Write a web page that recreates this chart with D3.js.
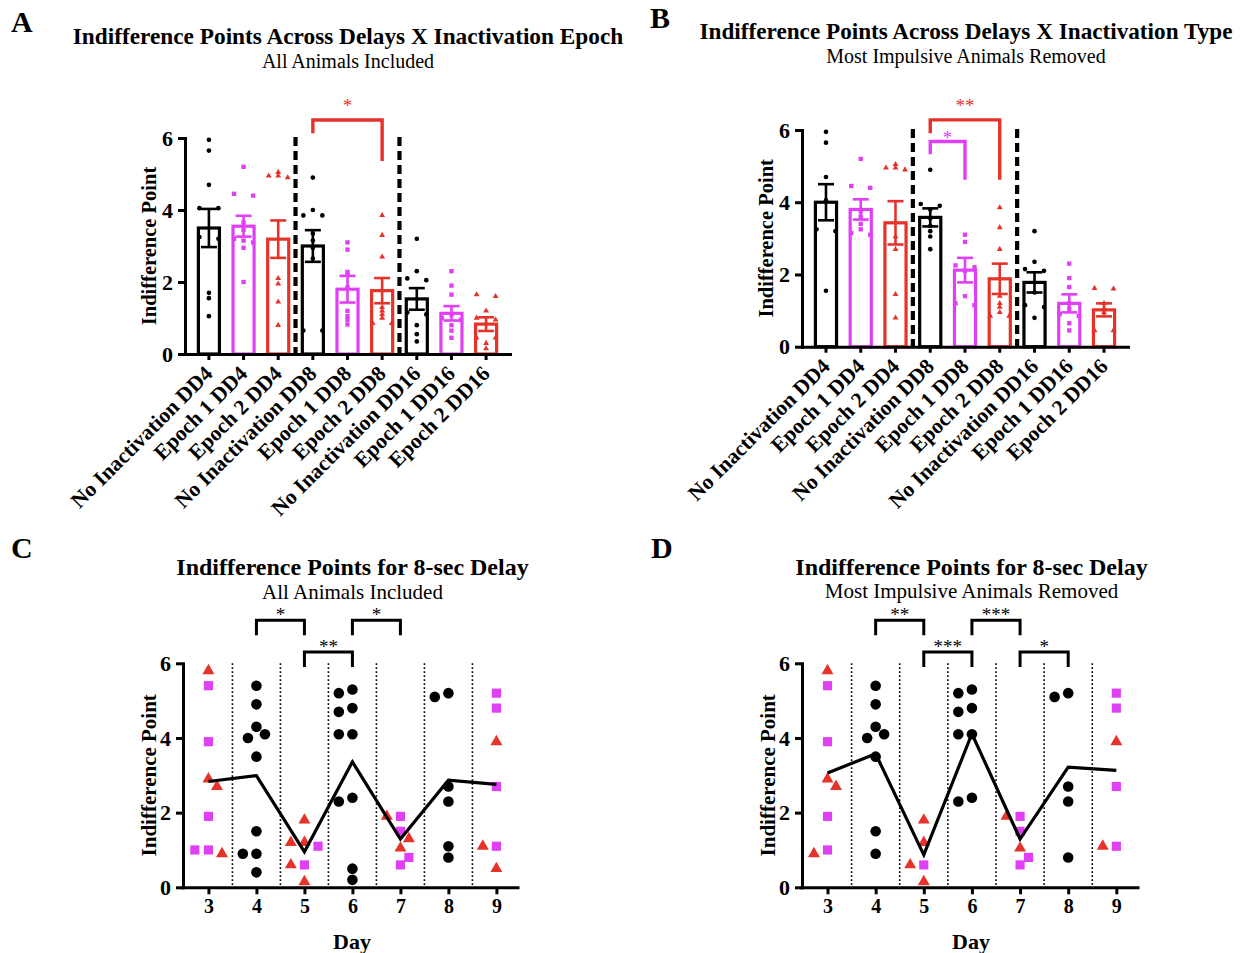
<!DOCTYPE html>
<html>
<head>
<meta charset="utf-8">
<script src="https://cdn.jsdelivr.net/npm/d3@7"></script>
<style>
  body { margin: 0; background: #fff; }
  svg text { font-family: "Liberation Serif", "Times New Roman", serif; fill: #000; }
</style>
</head>
<body>
<svg id="fig" width="1241" height="953"></svg>
<script>
// ---------- shared categories and ticks ----------
const barCategories = [
  "No Inactivation DD4", "Epoch 1 DD4", "Epoch 2 DD4",
  "No Inactivation DD8", "Epoch 1 DD8", "Epoch 2 DD8",
  "No Inactivation DD16", "Epoch 1 DD16", "Epoch 2 DD16"
];
const valueTicks = [0, 2, 4, 6];
const days = [3, 4, 5, 6, 7, 8, 9];

// ---------- Panel A: all animals included ----------
const meansA = [3.5, 3.55, 3.19, 3.0, 1.8, 1.76, 1.53, 1.13, 0.83];
const semsA  = [0.53, 0.29, 0.52, 0.44, 0.37, 0.35, 0.30, 0.20, 0.19];
const pointsA = [
  [5.95, 5.65, 4.7, 4.05, 4.05, 3.25, 3.2, 1.7, 1.55, 1.05],
  [5.2, 4.45, 4.4, 3.65, 3.45, 3.2, 3.15, 3.1, 2.95, 2.0],
  [5.05, 4.9, 4.95, 4.95, 2.1, 1.95, 1.45, 0.8],
  [4.9, 4.0, 3.85, 3.85, 3.35, 3.15, 2.95, 2.65, 0.65, 0.65],
  [3.1, 2.9, 2.28, 2.2, 1.85, 1.2, 1.05, 0.95, 0.82],
  [3.85, 3.3, 2.7, 1.3, 1.2, 1.1, 1.0, 0.85, 0.85],
  [3.2, 2.3, 2.1, 2.05, 1.15, 1.1, 0.8, 0.55, 0.35],
  [2.3, 1.9, 1.65, 1.1, 1.0, 0.95, 0.8, 0.65, 0.45],
  [1.65, 1.6, 1.2, 1.0, 0.95, 0.45, 0.45, 0.3, 0.15]
];

// ---------- Panel B: most impulsive animals removed ----------
const meansB = [4.0, 3.8, 3.43, 3.58, 2.12, 1.88, 1.78, 1.2, 1.02];
const semsB  = [0.5, 0.28, 0.6, 0.25, 0.34, 0.42, 0.28, 0.25, 0.18];
const pointsB = [
  [5.95, 5.65, 4.7, 4.05, 3.25, 3.2, 1.55],
  [5.2, 4.45, 4.4, 3.75, 3.6, 3.4, 3.25, 3.15, 3.1],
  [5.05, 4.9, 4.95, 4.95, 3.05, 2.7, 1.45, 0.8],
  [4.9, 3.95, 3.9, 3.8, 3.55, 3.35, 3.2, 3.05, 2.7],
  [3.1, 2.9, 2.25, 2.2, 2.1, 1.4, 1.2, 1.15],
  [3.85, 3.3, 2.7, 1.4, 1.2, 1.1, 0.95, 0.85, 0.85],
  [3.2, 2.35, 2.15, 2.1, 1.5, 1.15, 1.1, 0.8],
  [2.3, 1.9, 1.65, 1.2, 1.05, 0.9, 0.85, 0.65, 0.45],
  [1.62, 1.6, 1.2, 1.05, 0.95, 0.45, 0.45]
];

// ---------- Panel C: 8-sec delay by day, all animals ----------
const noInactC = [[], [5.4, 4.9, 4.3, 4.1, 4.0, 3.5, 1.5, 0.9, 0.9, 0.4], [], [5.3, 5.2, 4.8, 4.7, 4.1, 4.1, 2.4, 2.3, 0.5, 0.2], [], [5.2, 5.1, 2.7, 2.3, 1.1, 0.8], []];
const epoch1C  = [[5.4, 3.9, 1.9, 1.0, 1.0], [], [1.1, 0.6], [], [1.9, 1.5, 0.8, 0.6], [], [5.2, 4.8, 2.7, 1.1]];
const epoch2C  = [[5.8, 2.9, 2.7, 0.9], [], [1.8, 1.2, 1.2, 0.6, 0.15], [], [1.9, 1.3, 1.05], [], [3.9, 1.1, 0.5]];

// ---------- Panel D: 8-sec delay by day, impulsive removed ----------
const noInactD = [[], [5.4, 4.9, 4.3, 4.1, 4.0, 3.5, 1.5, 0.9], [], [5.3, 5.2, 4.8, 4.7, 4.1, 4.1, 2.4, 2.3], [], [5.2, 5.1, 2.7, 2.3, 0.8], []];
const epoch1D  = [[5.4, 3.9, 1.9, 1.0], [], [0.6], [], [1.9, 1.5, 0.8, 0.6], [], [5.2, 4.8, 2.7, 1.1]];
const epoch2D  = [[5.8, 2.9, 2.7, 0.9], [], [1.8, 1.2, 0.6, 0.15], [], [1.9, 1.05], [], [3.9, 1.1]];

// significance brackets
const bracketsA = [{ from: 3, to: 5, label: "*", group: "epoch2", top: 6.5, leftEnd: 6.13, rightEnd: 5.36, gap: 8 }];
const bracketsB = [
  { from: 3, to: 5, label: "**", group: "epoch2", top: 6.28, leftEnd: 5.91, rightEnd: 4.62, gap: 8 },
  { from: 3, to: 4, label: "*",  group: "epoch1", top: 5.68, leftEnd: 5.33, rightEnd: 4.62, gap: -2 }
];
const bracketsC = [
  { from: 4, to: 5, label: "*",  level: 0 },
  { from: 5, to: 6, label: "**", level: 1 },
  { from: 6, to: 7, label: "*",  level: 0 }
];
const bracketsD = [
  { from: 4, to: 5, label: "**",  level: 0 },
  { from: 5, to: 6, label: "***", level: 1 },
  { from: 6, to: 7, label: "***", level: 0 },
  { from: 7, to: 8, label: "*",   level: 1 }
];

// ---------- styling ----------
const colors = { none: "#000000", epoch1: "#e040f5", epoch2: "#e5332a" };
const groupOf = c => c.startsWith("No") ? "none" : (c.startsWith("Epoch 1") ? "epoch1" : "epoch2");
const shapeOf = { none: d3.symbolCircle, epoch1: d3.symbolSquare, epoch2: d3.symbolTriangle };

const svg = d3.select("#fig");

function label(g, x, y, s, size, weight, anchor, color) {
  return g.append("text").attr("x", x).attr("y", y).text(s)
    .style("font-size", size + "px").style("font-weight", weight)
    .attr("text-anchor", anchor || "middle").style("fill", color || "#000");
}

function styleAxis(sel, fontSize) {
  sel.select(".domain").attr("stroke", "#000").attr("stroke-width", 3).attr("stroke-linecap", "square");
  sel.selectAll(".tick line").attr("stroke", "#000").attr("stroke-width", 3);
  sel.selectAll(".tick text").style("font-size", fontSize + "px").style("font-weight", "bold")
    .style("font-family", '"Liberation Serif","Times New Roman",serif').attr("fill", "#000");
}

// spread near-equal values horizontally inside a bar
function barOffsets(vals, y, half) {
  const idx = vals.map((v, i) => i).sort((a, b) => vals[b] - vals[a]);
  const out = new Array(vals.length).fill(0);
  let grp = [idx[0]];
  const flush = () => {
    const n = grp.length;
    grp.forEach((k, j) => { out[k] = n === 1 ? 0 : -half + (2 * half) * j / (n - 1); });
  };
  for (let t = 1; t < idx.length; t++) {
    if (Math.abs(y(vals[idx[t]]) - y(vals[grp[grp.length - 1]])) < 2.6) grp.push(idx[t]);
    else { flush(); grp = [idx[t]]; }
  }
  flush();
  return out;
}

function drawBarPanel(cfg) {
  const g = svg.append("g");
  const x = d3.scaleBand().domain(barCategories).range([cfg.x0, cfg.x1]).paddingInner(0.3).paddingOuter(0.34);
  const y = d3.scaleLinear().domain([0, 6]).range([cfg.yBottom, cfg.yTop]);
  const bw = x.bandwidth();
  const cx = c => x(c) + bw / 2;

  // bars
  barCategories.forEach((c, i) => {
    const col = colors[groupOf(c)];
    g.append("rect")
      .attr("x", x(c) + 1.6).attr("width", bw - 3.2)
      .attr("y", y(cfg.means[i])).attr("height", y(0) - y(cfg.means[i]))
      .attr("fill", "#fff").attr("stroke", col).attr("stroke-width", 3.2);
  });

  // individual animals
  barCategories.forEach((c, i) => {
    const grp = groupOf(c);
    const vals = cfg.points[i];
    const offs = barOffsets(vals, y, 9.5);
    const sym = d3.symbol().type(shapeOf[grp]).size(grp === "none" ? 17 : (grp === "epoch1" ? 19 : 15));
    vals.forEach((v, k) => {
      g.append("path").attr("d", sym())
        .attr("transform", `translate(${cx(c) + offs[k]},${y(v)})`)
        .attr("fill", colors[grp]);
    });
  });

  // mean +/- SEM
  barCategories.forEach((c, i) => {
    const col = colors[groupOf(c)];
    const m = cfg.means[i], s = cfg.sems[i];
    const xc = cx(c);
    g.append("line").attr("x1", xc).attr("x2", xc).attr("y1", y(m + s)).attr("y2", y(m - s))
      .attr("stroke", col).attr("stroke-width", 2.6);
    [m + s, m - s].forEach(v => g.append("line").attr("x1", xc - 8).attr("x2", xc + 8)
      .attr("y1", y(v)).attr("y2", y(v)).attr("stroke", col).attr("stroke-width", 2.6));
  });

  // dashed separators between delay blocks
  [[2, 3], [5, 6]].forEach(([a, b]) => {
    const xm = (cx(barCategories[a]) + cx(barCategories[b])) / 2;
    g.append("line").attr("x1", xm).attr("x2", xm).attr("y1", y(6) - 1).attr("y2", y(0) + 1)
      .attr("stroke", "#000").attr("stroke-width", 4.2).attr("stroke-dasharray", "9,5");
  });

  // axes
  const ya = g.append("g").attr("transform", `translate(${cfg.x0},0)`)
    .call(d3.axisLeft(y).tickValues(valueTicks).tickSize(7).tickSizeOuter(0).tickPadding(5).tickFormat(d3.format("d")));
  styleAxis(ya, 22);
  const xa = g.append("g").attr("transform", `translate(0,${cfg.yBottom})`)
    .call(d3.axisBottom(x).tickSize(6).tickSizeOuter(0).tickFormat(""));
  styleAxis(xa, 20);

  barCategories.forEach(c => {
    g.append("text").text(c)
      .attr("transform", `translate(${cx(c) + 5},${cfg.yBottom + 21}) rotate(-45)`)
      .attr("text-anchor", "end").style("font-size", "21.5px").style("font-weight", "bold");
  });

  // y label
  g.append("text").text("Indifference Point")
    .attr("transform", `translate(${cfg.x0 - 29},${(y(0) + y(6)) / 2}) rotate(-90)`)
    .attr("text-anchor", "middle").style("font-size", "20.5px").style("font-weight", "bold");

  // significance brackets
  cfg.brackets.forEach(b => {
    const x1 = cx(barCategories[b.from]), x2 = cx(barCategories[b.to]);
    const col = colors[b.group];
    g.append("path")
      .attr("d", `M${x1},${y(b.leftEnd)}V${y(b.top)}H${x2}V${y(b.rightEnd)}`)
      .attr("fill", "none").attr("stroke", col).attr("stroke-width", 3.4);
    label(g, (x1 + x2) / 2, y(b.top) - b.gap, b.label, 19, "normal", "middle", col);
  });

  // titles
  label(svg, cfg.titleX, cfg.titleY, cfg.title, cfg.titleSize, "bold");
  label(svg, cfg.titleX, cfg.subY, cfg.sub, 20, "normal");
  label(svg, cfg.letterX, cfg.letterY, cfg.letter, 30, "bold", "start");
}

function drawDayPanel(cfg) {
  const g = svg.append("g");
  const x = d3.scaleLinear().domain([2.47, 9.45]).range([cfg.x0, cfg.x1]);
  const y = d3.scaleLinear().domain([0, 6]).range([cfg.yBottom, cfg.yTop]);

  // dotted day separators
  days.slice(0, -1).forEach(d => {
    g.append("line").attr("x1", x(d + 0.5)).attr("x2", x(d + 0.5))
      .attr("y1", y(6)).attr("y2", y(0))
      .attr("stroke", "#000").attr("stroke-width", 1.6).attr("stroke-dasharray", "1.6,2.4");
  });

  // collect animals per day
  const pts = [];
  days.forEach((d, i) => {
    cfg.none[i].forEach(v => pts.push({ day: d, v, grp: "none" }));
    cfg.e1[i].forEach(v => pts.push({ day: d, v, grp: "epoch1" }));
    cfg.e2[i].forEach(v => pts.push({ day: d, v, grp: "epoch2" }));
  });

  // place markers so they do not overlap
  const D = 10.5, step = 8.5;
  days.forEach(d => {
    const placed = [];
    pts.filter(p => p.day === d).sort((a, b) => b.v - a.v).forEach(p => {
      const py = y(p.v);
      for (const k of [0, 1, -1, -1.6, 1.6, -2.5, 2.5]) {
        const px = x(d) + k * step;
        if (placed.every(q => (q.px - px) ** 2 + (q.py - py) ** 2 >= D * D)) {
          p.px = px; p.py = py; placed.push(p); break;
        }
      }
    });
  });

  const sizes = { none: 88, epoch1: 84, epoch2: 62 };
  pts.forEach(p => {
    g.append("path").attr("d", d3.symbol().type(shapeOf[p.grp]).size(sizes[p.grp])())
      .attr("transform", `translate(${p.px},${p.py})`).attr("fill", colors[p.grp]);
  });

  // daily mean line
  const means = days.map(d => [d, d3.mean(pts.filter(p => p.day === d), p => p.v)]);
  g.append("path").datum(means)
    .attr("d", d3.line().x(d => x(d[0])).y(d => y(d[1])))
    .attr("fill", "none").attr("stroke", "#000").attr("stroke-width", 3.2).attr("stroke-linejoin", "miter");

  // axes
  const ya = g.append("g").attr("transform", `translate(${cfg.x0},0)`)
    .call(d3.axisLeft(y).tickValues(valueTicks).tickSize(7).tickSizeOuter(0).tickPadding(5).tickFormat(d3.format("d")));
  styleAxis(ya, 22);
  const xa = g.append("g").attr("transform", `translate(0,${cfg.yBottom})`)
    .call(d3.axisBottom(x).tickValues(days).tickSize(7).tickSizeOuter(0).tickPadding(5).tickFormat(d3.format("d")));
  styleAxis(xa, 20);
  xa.select(".domain").attr("d", `M${cfg.x0},0.5H${cfg.x1}`);

  label(g, cfg.dayX, cfg.yBottom + 62, "Day", 22, "bold");

  g.append("text").text("Indifference Point")
    .attr("transform", `translate(${cfg.x0 - 27},${(y(0) + y(6)) / 2}) rotate(-90)`)
    .attr("text-anchor", "middle").style("font-size", "21px").style("font-weight", "bold");

  // significance brackets
  const levels = [{ top: 7.15, end: 6.75 }, { top: 6.3, end: 5.9 }];
  cfg.brackets.forEach(b => {
    const L = levels[b.level];
    const x1 = x(b.from), x2 = x(b.to);
    g.append("path").attr("d", `M${x1},${y(L.end)}V${y(L.top)}H${x2}V${y(L.end)}`)
      .attr("fill", "none").attr("stroke", "#000").attr("stroke-width", 3);
    label(g, (x1 + x2) / 2, y(L.top) + 1, b.label, 19, "normal");
  });

  label(svg, cfg.titleX, cfg.titleY, cfg.title, 24, "bold");
  label(svg, cfg.titleX, cfg.subY, cfg.sub, 21, "normal");
  label(svg, cfg.letterX, cfg.letterY, cfg.letter, 30, "bold", "start");
}

drawBarPanel({
  x0: 185, x1: 510, yBottom: 354, yTop: 138,
  means: meansA, sems: semsA, points: pointsA, brackets: bracketsA,
  title: "Indifference Points Across Delays X Inactivation Epoch", titleSize: 23.3,
  sub: "All Animals Included", titleX: 348, titleY: 44, subY: 68,
  letter: "A", letterX: 11, letterY: 32
});
drawBarPanel({
  x0: 802, x1: 1128, yBottom: 346.7, yTop: 130,
  means: meansB, sems: semsB, points: pointsB, brackets: bracketsB,
  title: "Indifference Points Across Delays X Inactivation Type", titleSize: 23.2,
  sub: "Most Impulsive Animals Removed", titleX: 966, titleY: 39, subY: 63,
  letter: "B", letterX: 650, letterY: 28
});
drawDayPanel({
  x0: 183, x1: 518, yBottom: 887.3, yTop: 663.3,
  none: noInactC, e1: epoch1C, e2: epoch2C, brackets: bracketsC,
  title: "Indifference Points for 8-sec Delay", sub: "All Animals Included",
  titleX: 352.5, titleY: 575, subY: 599, dayX: 352,
  letter: "C", letterX: 11, letterY: 558
});
drawDayPanel({
  x0: 802, x1: 1138, yBottom: 887.3, yTop: 663.3,
  none: noInactD, e1: epoch1D, e2: epoch2D, brackets: bracketsD,
  title: "Indifference Points for 8-sec Delay", sub: "Most Impulsive Animals Removed",
  titleX: 971.5, titleY: 575, subY: 598, dayX: 971,
  letter: "D", letterX: 651, letterY: 558
});
</script>
</body>
</html>
